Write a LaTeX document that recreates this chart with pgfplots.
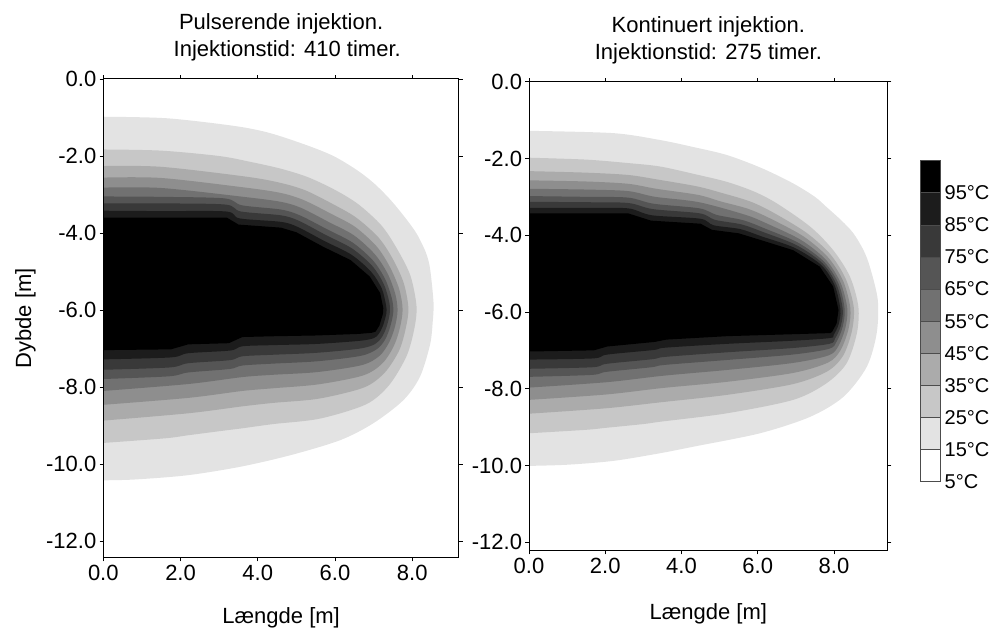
\documentclass[border=0pt]{standalone}
\usepackage{fontspec}
\setmainfont{Liberation Sans}
\usepackage{pgfplots}
\pgfplotsset{compat=1.18}
\definecolor{c15}{gray}{0.89}
\definecolor{c25}{gray}{0.78}
\definecolor{c35}{gray}{0.67}
\definecolor{c45}{gray}{0.555}
\definecolor{c55}{gray}{0.445}
\definecolor{c65}{gray}{0.333}
\definecolor{c75}{gray}{0.222}
\definecolor{c85}{gray}{0.111}
\definecolor{c95}{gray}{0}
\pgfplotsset{
  mainax/.style={scale only axis, axis on top, xmin=0, ymax=0,
    xtick={0,2,4,6,8}, ytick={0,-2,-4,-6,-8,-10,-12},
    tick align=outside, major tick length=1.8pt,
    tick style={black, line width=0.4pt},
    axis line style={line width=0.5pt},
    ticklabel style={font=\fontsize{11}{13}\selectfont, inner sep=1.5pt},
    label style={font=\fontsize{11}{13}\selectfont},
    title style={font=\fontsize{11}{13.5}\selectfont, align=center, anchor=center},
    /pgf/number format/fixed, /pgf/number format/fixed zerofill,
    /pgf/number format/precision=1, /pgf/number format/assume math mode=true},
  band/.style={fill=#1, draw=none, smooth, tension=0.5},
}
\begin{document}
\begin{tikzpicture}
\path[use as bounding box] (0,0) rectangle (503pt,314pt);
% ---------------- left plot ----------------
\begin{axis}[mainax, at={(51.65pt,35.15pt)}, anchor=south west,
  width=177.85pt, height=239.35pt, xmax=9.21, ymin=-12.43,
  title={Pulserende injektion.\\ \ \ Injektionstid: 410 timer.},
  title style={at={(0.5,1.062)}},
  xlabel={Længde [m]}, ylabel={Dybde [m]},
  xlabel style={at={(axis description cs:0.5,-0.125)}, anchor=center},
  ylabel style={at={(axis description cs:-0.219,0.5)}, anchor=center, rotate=0}]
\addplot[band=c15] coordinates {(0,-0.98) (1.65,-1.02) (3.4,-1.22) (4.3,-1.40) (5.27,-1.72) (5.96,-2.0) (6.56,-2.36) (7.0,-2.70) (7.42,-3.12) (7.8,-3.58) (8.11,-4.01) (8.35,-4.5) (8.46,-4.92) (8.55,-5.8) (8.53,-6.3) (8.46,-6.9) (8.20,-7.73) (7.77,-8.34) (6.99,-8.94) (6.13,-9.38) (4.84,-9.77) (3.54,-10.07) (2.17,-10.29) (0.8,-10.40) (0,-10.42)};
\addplot[band=c25] coordinates {(0,-1.83) (1.5,-1.86) (3.0,-2.0) (3.8,-2.15) (4.6,-2.33) (5.3,-2.55) (6.0,-2.88) (6.6,-3.25) (7.2,-3.80) (7.6,-4.40) (7.95,-5.1) (8.11,-5.9) (8.05,-6.5) (7.85,-7.2) (7.4,-7.95) (6.8,-8.45) (5.6,-8.82) (4.4,-8.96) (3.6,-9.07) (3.2,-9.12) (2.2,-9.25) (1.6,-9.33) (0,-9.45)};
\addplot[band=c35] coordinates {(0,-2.26) (1.5,-2.28) (3.73,-2.54) (4.6,-2.70) (5.23,-2.89) (5.93,-3.24) (6.55,-3.60) (7.13,-4.12) (7.50,-4.68) (7.78,-5.30) (7.90,-5.95) (7.83,-6.48) (7.66,-7.05) (7.29,-7.62) (6.75,-8.01) (5.58,-8.30) (4.4,-8.41) (3.6,-8.50) (2.2,-8.68) (0,-8.87)};
\addplot[band=c45] coordinates {(0,-2.56) (1.5,-2.57) (3.68,-2.82) (4.6,-2.96) (5.18,-3.14) (5.88,-3.49) (6.52,-3.84) (7.08,-4.35) (7.42,-4.88) (7.66,-5.45) (7.75,-5.98) (7.68,-6.46) (7.52,-6.94) (7.22,-7.39) (6.72,-7.70) (5.56,-7.93) (4.4,-8.03) (3.6,-8.10) (2.2,-8.28) (0,-8.46)};
\addplot[band=c55] coordinates {(0,-2.82) (1.5,-2.83) (3.63,-3.06) (4.6,-3.19) (5.13,-3.35) (5.83,-3.71) (6.49,-4.06) (7.03,-4.55) (7.36,-5.05) (7.56,-5.58) (7.62,-6.01) (7.55,-6.44) (7.40,-6.84) (7.15,-7.19) (6.69,-7.43) (5.54,-7.61) (4.4,-7.68) (3.6,-7.74) (2.2,-7.92) (0,-8.10)};
\addplot[band=c65] coordinates {(0,-3.05) (1.5,-3.06) (3.14,-3.10) (3.59,-3.28) (4.6,-3.39) (5.09,-3.54) (5.79,-3.90) (6.46,-4.25) (6.99,-4.72) (7.30,-5.20) (7.47,-5.69) (7.51,-6.04) (7.43,-6.43) (7.30,-6.76) (7.09,-7.01) (6.66,-7.19) (5.53,-7.33) (4.4,-7.39) (3.6,-7.44) (3.27,-7.53) (2.2,-7.62) (1.70,-7.72) (0,-7.79)};
\addplot[band=c75] coordinates {(0,-3.23) (1.5,-3.23) (3.16,-3.26) (3.56,-3.44) (4.6,-3.54) (5.06,-3.68) (5.76,-4.05) (6.44,-4.40) (6.96,-4.85) (7.26,-5.32) (7.40,-5.77) (7.42,-6.06) (7.34,-6.42) (7.22,-6.69) (7.04,-6.88) (6.64,-7.00) (5.52,-7.11) (4.4,-7.16) (3.6,-7.20) (3.28,-7.30) (2.2,-7.38) (1.72,-7.49) (0,-7.55)};
\addplot[band=c85] coordinates {(0,-3.42) (1.5,-3.43) (3.18,-3.44) (3.53,-3.62) (4.6,-3.71) (5.03,-3.84) (5.73,-4.21) (6.42,-4.56) (6.93,-5.00) (7.21,-5.44) (7.32,-5.87) (7.33,-6.08) (7.24,-6.41) (7.13,-6.62) (7.00,-6.73) (6.62,-6.80) (5.51,-6.88) (4.4,-6.91) (3.6,-6.94) (3.29,-7.05) (2.2,-7.12) (1.74,-7.23) (0,-7.28)};
\addplot[fill=c95, draw=none] coordinates {(0,-3.60) (1.5,-3.60) (3.2,-3.60) (3.5,-3.78) (4.6,-3.86) (5.0,-3.98) (5.7,-4.36) (6.4,-4.70) (6.9,-5.13) (7.17,-5.56) (7.25,-5.95) (7.24,-6.1) (7.15,-6.4) (7.05,-6.56) (6.95,-6.59) (6.6,-6.62) (5.5,-6.66) (4.4,-6.68) (3.6,-6.70) (3.25,-6.86) (2.2,-6.89) (1.75,-7.02) (0,-7.04)};
\end{axis}
% ---------------- right plot ----------------
\begin{axis}[mainax, at={(264.5pt,38.65pt)}, anchor=south west,
  width=179.35pt, height=234.5pt, xmax=9.41, ymin=-12.22,
  title={Kontinuert injektion.\\ Injektionstid: 275 timer.},
  title style={at={(0.5,1.063)}},
  xlabel={Længde [m]},
  xlabel style={at={(axis description cs:0.5,-0.135)}, anchor=center}]
\addplot[band=c15] coordinates {(0,-1.28) (2.21,-1.34) (3.44,-1.52) (4.3,-1.70) (5.19,-1.91) (6.1,-2.25) (6.93,-2.65) (7.5,-3.0) (7.8,-3.26) (8.2,-3.62) (8.51,-3.95) (8.78,-4.4) (8.95,-4.85) (9.15,-5.69) (9.12,-6.56) (8.86,-7.43) (8.25,-8.21) (7.38,-8.73) (6.06,-9.16) (4.31,-9.51) (3.44,-9.68) (2.21,-9.88) (1.0,-9.98) (0,-10.01)};
\addplot[band=c25] coordinates {(0,-1.98) (1.5,-2.03) (2.6,-2.12) (3.44,-2.21) (4.4,-2.42) (5.19,-2.61) (5.9,-2.86) (6.5,-3.17) (7.38,-3.78) (7.98,-4.39) (8.42,-5.08) (8.64,-5.86) (8.60,-6.56) (8.33,-7.34) (7.80,-7.86) (6.93,-8.29) (5.19,-8.64) (3.44,-8.86) (3.0,-8.92) (2.0,-9.02) (1.5,-9.07) (0,-9.16)};
\addplot[band=c35] coordinates {(0,-2.33) (1.5,-2.37) (2.6,-2.43) (3.38,-2.55) (4.42,-2.73) (5.10,-2.91) (5.80,-3.12) (6.39,-3.40) (7.27,-3.93) (7.90,-4.49) (8.31,-5.14) (8.52,-5.88) (8.47,-6.50) (8.24,-7.14) (7.82,-7.55) (6.92,-7.88) (5.19,-8.16) (3.48,-8.35) (2.01,-8.51) (0,-8.65)};
\addplot[band=c45] coordinates {(0,-2.57) (1.5,-2.60) (2.6,-2.66) (3.34,-2.79) (4.44,-2.95) (5.03,-3.12) (5.74,-3.31) (6.32,-3.56) (7.20,-4.03) (7.84,-4.57) (8.24,-5.19) (8.43,-5.90) (8.38,-6.45) (8.17,-7.00) (7.84,-7.32) (6.92,-7.59) (5.19,-7.82) (3.51,-7.98) (2.02,-8.15) (0,-8.29)};
\addplot[band=c55] coordinates {(0,-2.79) (1.5,-2.81) (2.6,-2.85) (3.31,-3.00) (4.46,-3.14) (5.68,-3.47) (6.25,-3.70) (7.13,-4.12) (7.78,-4.63) (8.17,-5.23) (8.35,-5.91) (8.30,-6.41) (8.12,-6.88) (7.86,-7.13) (6.91,-7.33) (5.20,-7.51) (3.53,-7.66) (2.03,-7.83) (0,-7.97)};
\addplot[band=c65] coordinates {(0,-2.98) (1.5,-3.00) (2.6,-3.02) (3.27,-3.18) (4.47,-3.30) (4.92,-3.47) (5.62,-3.61) (6.20,-3.83) (7.07,-4.20) (7.74,-4.69) (8.12,-5.26) (8.28,-5.92) (8.23,-6.38) (8.07,-6.77) (7.87,-6.96) (6.91,-7.11) (5.20,-7.25) (3.55,-7.38) (3.21,-7.44) (2.03,-7.56) (1.64,-7.64) (0,-7.69)};
\addplot[band=c75] coordinates {(0,-3.13) (1.5,-3.14) (2.6,-3.16) (3.25,-3.32) (4.48,-3.43) (4.88,-3.60) (5.58,-3.72) (6.15,-3.92) (7.02,-4.26) (7.70,-4.73) (8.07,-5.29) (8.23,-5.93) (8.18,-6.36) (8.03,-6.69) (7.88,-6.83) (6.91,-6.94) (5.20,-7.05) (3.57,-7.17) (3.24,-7.23) (2.04,-7.35) (1.66,-7.44) (0,-7.48)};
\addplot[band=c85] coordinates {(0,-3.29) (1.5,-3.29) (2.6,-3.30) (3.22,-3.48) (4.49,-3.57) (4.84,-3.74) (5.54,-3.84) (6.10,-4.03) (6.97,-4.33) (7.67,-4.78) (8.02,-5.31) (8.17,-5.94) (8.12,-6.33) (7.99,-6.60) (7.89,-6.68) (6.90,-6.75) (5.20,-6.83) (3.58,-6.93) (3.27,-6.99) (2.05,-7.11) (1.68,-7.21) (0,-7.24)};
\addplot[fill=c95, draw=none] coordinates {(0,-3.43) (1.5,-3.43) (2.6,-3.43) (3.2,-3.62) (4.5,-3.70) (4.8,-3.86) (5.5,-3.95) (6.06,-4.12) (6.93,-4.39) (7.63,-4.82) (7.98,-5.34) (8.12,-5.95) (8.07,-6.3) (7.95,-6.52) (7.9,-6.55) (6.9,-6.58) (5.2,-6.63) (3.6,-6.72) (3.3,-6.78) (2.05,-6.90) (1.7,-7.0) (0,-7.03)};
\end{axis}
% ---------------- colour key ----------------
\begin{axis}[scale only axis, at={(460pt,73.15pt)}, anchor=south west,
  width=10.15pt, height=160.5pt, xmin=0, xmax=1, ymin=5, ymax=105,
  clip=false, axis line style={draw=none}, xtick=\empty,
  ytick={5,15,25,35,45,55,65,75,85,95},
  yticklabels={5°C,15°C,25°C,35°C,45°C,55°C,65°C,75°C,85°C,95°C},
  yticklabel pos=right, major tick length=0pt,
  yticklabel style={font=\fontsize{10}{12}\selectfont, inner sep=2pt}]
\addplot[fill=white, draw=black!70] coordinates {(0,5) (1,5) (1,15) (0,15)} -- cycle;
\addplot[fill=c15, draw=black!70] coordinates {(0,15) (1,15) (1,25) (0,25)} -- cycle;
\addplot[fill=c25, draw=black!70] coordinates {(0,25) (1,25) (1,35) (0,35)} -- cycle;
\addplot[fill=c35, draw=black!70] coordinates {(0,35) (1,35) (1,45) (0,45)} -- cycle;
\addplot[fill=c45, draw=black!70] coordinates {(0,45) (1,45) (1,55) (0,55)} -- cycle;
\addplot[fill=c55, draw=black!70] coordinates {(0,55) (1,55) (1,65) (0,65)} -- cycle;
\addplot[fill=c65, draw=black!70] coordinates {(0,65) (1,65) (1,75) (0,75)} -- cycle;
\addplot[fill=c75, draw=black!70] coordinates {(0,75) (1,75) (1,85) (0,85)} -- cycle;
\addplot[fill=c85, draw=black!70] coordinates {(0,85) (1,85) (1,95) (0,95)} -- cycle;
\addplot[fill=c95, draw=black!70] coordinates {(0,95) (1,95) (1,105) (0,105)} -- cycle;
\end{axis}
\end{tikzpicture}
\end{document}
